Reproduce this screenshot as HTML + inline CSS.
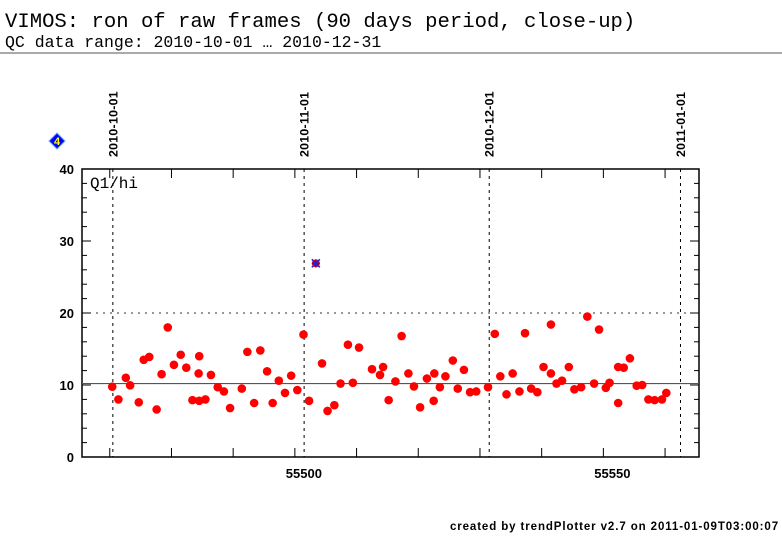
<!DOCTYPE html>
<html><head><meta charset="utf-8"><style>
body{margin:0;background:#fff;width:782px;height:542px;overflow:hidden}
svg{display:block}
</style></head><body>
<svg id="chart" width="782" height="542" xmlns="http://www.w3.org/2000/svg">
<text x="5" y="27" font-family="Liberation Mono, monospace" font-size="20.6">VIMOS: ron of raw frames (90 days period, close-up)</text>
<text x="5" y="47" font-family="Liberation Mono, monospace" font-size="16.5">QC data range: 2010-10-01 … 2010-12-31</text>
<line x1="0" y1="53" x2="782" y2="53" stroke="#555" stroke-width="1"/>
<g>
<polygon points="57,133 65,141 57,149 49,141" fill="#0000ff" stroke="#6af" stroke-width="1"/>
<text x="57" y="145" text-anchor="middle" font-family="Liberation Sans, sans-serif" font-size="11" font-weight="bold" fill="#ff0">4</text>
</g>
<g id="plot"></g>
<text x="779" y="530" text-anchor="end" font-family="Liberation Sans, sans-serif" font-size="11.5" font-weight="bold" letter-spacing="0.9">created by trendPlotter v2.7 on 2011-01-09T03:00:07</text>
</svg>
<script>
const dates = [55470.4,55471.4,55472.6,55473.3,55474.7,55475.5,55476.4,55477.6,55478.4,55479.4,55480.4,55481.5,55482.4,55483.4,55484.5,55484.4,55484.5,55485.5,55486.4,55487.5,55488.5,55489.5,55491.4,55492.3,55493.4,55494.4,55495.5,55496.4,55497.4,55498.4,55499.4,55500.4,55501.4,55502.3,55504.4,55505.3,55506.4,55507.4,55508.6,55509.4,55510.4,55512.5,55513.8,55514.3,55515.2,55516.3,55517.3,55518.4,55519.3,55520.3,55521.4,55522.5,55522.6,55523.5,55524.4,55525.6,55526.4,55527.4,55528.4,55529.4,55531.3,55532.4,55533.3,55534.3,55535.3,55536.4,55537.3,55538.3,55539.3,55540.3,55541.5,55541.5,55542.4,55543.3,55544.4,55545.3,55546.4,55547.4,55548.5,55549.3,55550.4,55551.0,55552.4,55552.4,55553.3,55554.3,55555.4,55556.3,55557.3,55558.3,55559.5,55560.2];
const values = [9.77,8.0,11.0,9.95,7.6,13.5,13.9,6.6,11.5,18.0,12.8,14.2,12.4,7.9,14.0,11.6,7.8,8.0,11.4,9.7,9.1,6.8,9.5,14.6,7.5,14.8,11.9,7.5,10.6,8.9,11.3,9.3,17.0,7.8,13.0,6.4,7.2,10.2,15.6,10.3,15.2,12.2,11.4,12.5,7.9,10.5,16.8,11.6,9.8,6.9,10.9,7.8,11.6,9.7,11.2,13.4,9.5,12.1,9.0,9.1,9.7,17.1,11.2,8.7,11.6,9.1,17.2,9.5,9.0,12.5,11.6,18.4,10.2,10.6,12.5,9.4,9.7,19.5,10.2,17.7,9.6,10.3,12.5,7.5,12.4,13.7,9.9,10.0,8.0,7.9,8.0,8.9];
const outlierDates = [55503.4];
const outlierValues = [26.9];
const yTicks = [0,10,20,30,40];
const xTicks = [55470,55480,55490,55500,55510,55520,55530,55540,55550,55560];
const xTickLabels = ["","","","55500","","","","","55550",""];
const monthLines = [55470.5,55501.5,55531.5,55562.5];
const monthLabels = ["2010-10-01","2010-11-01","2010-12-01","2011-01-01"];
const refLine = 10.2, limitLine = 20;

const L=82,R=699,T=169,B=457;
const x0=55465.5,x1=55565.5,y0=0,y1=40;
const X=v=>L+(v-x0)/(x1-x0)*(R-L);
const Y=v=>B-(v-y0)/(y1-y0)*(B-T);
const NS="http://www.w3.org/2000/svg";
const g=document.getElementById('plot');
function mk(t,a,p){const e=document.createElementNS(NS,t);for(const k in a)e.setAttribute(k,a[k]);(p||g).appendChild(e);return e;}

let e;
e=mk('rect',{x:L,y:T,width:R-L,height:B-T,fill:'none',stroke:'#000','stroke-width':1.5});


e=mk('line',{x1:L,x2:R,y1:Y(limitLine),y2:Y(limitLine),stroke:'#333','stroke-dasharray':'2,5'});


e=mk('line',{x1:L,x2:R,y1:Y(refLine),y2:Y(refLine),stroke:'#555','stroke-width':1.2});


monthLines.forEach((m,i)=>{
  let l=mk('line',{x1:X(m),x2:X(m),y1:T,y2:B,stroke:'#000','stroke-dasharray':'3,4'});
  
  
  let t=mk('text',{x:0,y:0,transform:`translate(${X(m)+4.5},157) rotate(-90)`,'font-family':'Liberation Sans, sans-serif','font-size':'12.3','font-weight':'bold','letter-spacing':'0.3'});
  t.textContent=monthLabels[i];
  
  
});
for(let v=0;v<=40;v+=2){
  const len=(v%10===0)?9:5;
  let a=mk('line',{x1:L,x2:L+len,y1:Y(v),y2:Y(v),stroke:'#000'});
  
  
  let b=mk('line',{x1:R,x2:R-len,y1:Y(v),y2:Y(v),stroke:'#000'});
  
  
}
yTicks.forEach(v=>{
  let t=mk('text',{x:74,y:Y(v)+5,'text-anchor':'end','font-family':'Liberation Sans, sans-serif','font-size':'13','font-weight':'bold'});
  t.textContent=v;
  
  
});
xTicks.forEach((v,i)=>{
  let a=mk('line',{x1:X(v),x2:X(v),y1:B,y2:B-9,stroke:'#000'});
  
  
  let b=mk('line',{x1:X(v),x2:X(v),y1:T,y2:T+9,stroke:'#000'});
  
  
  if(xTickLabels[i]){
    let t=mk('text',{x:X(v)+9,y:B+21,'text-anchor':'middle','font-family':'Liberation Sans, sans-serif','font-size':'13','font-weight':'bold'});
    t.textContent=xTickLabels[i];
    
    
  }
});
e=mk('text',{x:90,y:188,'font-family':'Liberation Mono, monospace','font-size':'16'});
e.textContent='Q1/hi';


dates.forEach((d,i)=>{
  let c=mk('circle',{cx:X(d),cy:Y(values[i]),r:4.3,fill:'#ff0000'});
  
  
});
outlierDates.forEach((d,i)=>{
  const cx=X(d),cy=Y(outlierValues[i]);
  let c=mk('circle',{cx:cx,cy:cy,r:4,fill:'#ff0000'});
  
  
  let s=mk('path',{d:`M${cx-4},${cy-4}L${cx+4},${cy+4}M${cx-4},${cy+4}L${cx+4},${cy-4}M${cx-4},${cy}L${cx+4},${cy}M${cx},${cy-4}L${cx},${cy+4}`,stroke:'#2222cc','stroke-width':1.5});
  
  
});
</script>
</body></html>
